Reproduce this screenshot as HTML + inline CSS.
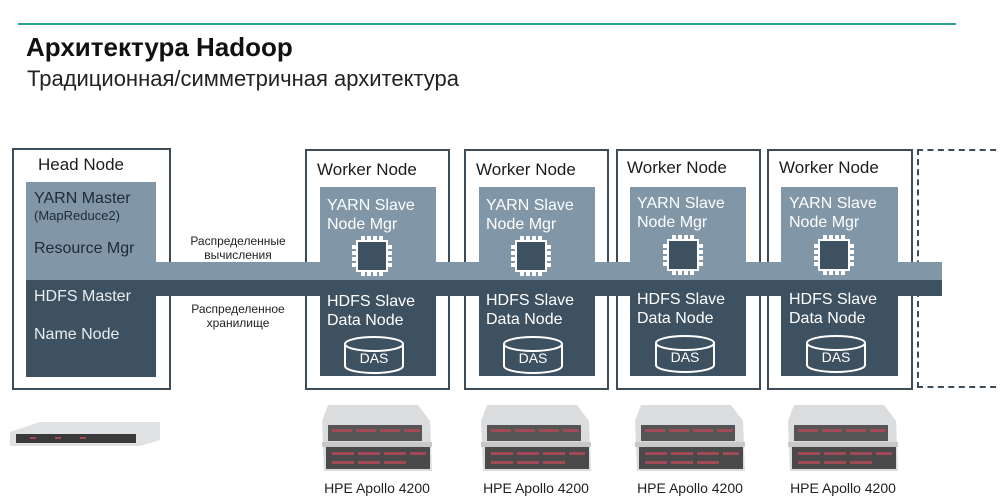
<!DOCTYPE html>
<html><head><meta charset="utf-8"><style>
body{margin:0;width:1000px;height:504px;background:#fff;position:relative;overflow:hidden;font-family:"Liberation Sans",sans-serif}
.a{position:absolute}
.box{position:absolute;border:2px solid #3c4c58;box-sizing:border-box;background:#fff}
.lt{position:absolute;background:#8196a7}
.dk{position:absolute;background:#3e5161}
.t{position:absolute;white-space:nowrap}
.wt{font-size:17px;color:#1c1c1c}
.in{font-size:16px;color:#fff;line-height:19px}
.lbl{font-size:12px;color:#222;text-align:center;line-height:14px}
</style></head><body>
<div class="a" style="left:18px;top:23px;width:938px;height:2px;background:#2aa392"></div>
<div class="t" style="left:26px;top:32px;font-size:26px;font-weight:bold;color:#111">Архитектура Hadoop</div>
<div class="t" style="left:27px;top:66px;font-size:22px;color:#222">Традиционная/симметричная архитектура</div>

<div class="box" style="left:12px;top:148px;width:159px;height:242px"></div>
<div class="t wt" style="left:38px;top:155px">Head Node</div>
<div class="lt" style="left:26px;top:182px;width:130px;height:98px"></div>
<div class="dk" style="left:26px;top:280px;width:130px;height:97px"></div>

<div class="box" style="left:305px;top:149px;width:145px;height:241px"></div>
<div class="box" style="left:464px;top:149px;width:145px;height:241px"></div>
<div class="box" style="left:616px;top:149px;width:145px;height:241px"></div>
<div class="box" style="left:767px;top:149px;width:146px;height:241px"></div>
<div class="a" style="left:917px;top:149px;width:100px;height:239px;border:2px dashed #3c4c58;box-sizing:border-box"></div>

<div class="lt" style="left:320px;top:187px;width:116px;height:93px"></div>
<div class="dk" style="left:320px;top:296px;width:116px;height:80px"></div>
<div class="lt" style="left:479px;top:187px;width:116px;height:93px"></div>
<div class="dk" style="left:479px;top:296px;width:116px;height:80px"></div>
<div class="lt" style="left:630px;top:187px;width:116px;height:93px"></div>
<div class="dk" style="left:630px;top:296px;width:116px;height:80px"></div>
<div class="lt" style="left:781px;top:187px;width:117px;height:93px"></div>
<div class="dk" style="left:781px;top:296px;width:117px;height:80px"></div>

<div class="lt" style="left:156px;top:262px;width:786px;height:18px"></div>
<div class="dk" style="left:156px;top:280px;width:786px;height:16px"></div>

<div class="t" style="left:34px;top:190px;font-size:16px;color:#1e2b36">YARN Master</div>
<div class="t" style="left:34px;top:208px;font-size:13px;color:#1e2b36">(MapReduce2)</div>
<div class="t" style="left:34px;top:240px;font-size:16px;color:#1e2b36">Resource Mgr</div>
<div class="t" style="left:34px;top:288px;font-size:16px;color:#e8edf1">HDFS Master</div>
<div class="t" style="left:34px;top:326px;font-size:16px;color:#e8edf1">Name Node</div>

<div class="t lbl" style="left:172px;top:234px;width:132px">Распределенные<br>вычисления</div>
<div class="t lbl" style="left:172px;top:302px;width:132px">Распределенное<br>хранилище</div>

<div class="t wt" style="left:317px;top:160px">Worker Node</div>
<div class="t wt" style="left:476px;top:160px">Worker Node</div>
<div class="t wt" style="left:627px;top:158px">Worker Node</div>
<div class="t wt" style="left:779px;top:158px">Worker Node</div>

<div class="t in" style="left:327px;top:196px">YARN Slave<br>Node Mgr</div>
<div class="t in" style="left:486px;top:196px">YARN Slave<br>Node Mgr</div>
<div class="t in" style="left:637px;top:194px">YARN Slave<br>Node Mgr</div>
<div class="t in" style="left:789px;top:194px">YARN Slave<br>Node Mgr</div>
<div class="t in" style="left:327px;top:292px">HDFS Slave<br>Data Node</div>
<div class="t in" style="left:486px;top:291px">HDFS Slave<br>Data Node</div>
<div class="t in" style="left:637px;top:290px">HDFS Slave<br>Data Node</div>
<div class="t in" style="left:789px;top:290px">HDFS Slave<br>Data Node</div>

<svg class="a" style="left:0;top:0" width="1000" height="504">
<defs>
<g id="pinrow" fill="#fff">
<rect x="-11" y="0" width="4" height="4"/><rect x="-5" y="0" width="4" height="4"/><rect x="1" y="0" width="4" height="4"/><rect x="7" y="0" width="4" height="4"/>
</g>
<g id="chip">
<rect x="-16" y="-16" width="32" height="32" fill="#fff"/>
<rect x="-14" y="-14" width="28" height="28" fill="#3e5161"/>
<use href="#pinrow" y="-20"/><use href="#pinrow" y="16"/>
<use href="#pinrow" transform="rotate(90) translate(0,16)"/><use href="#pinrow" transform="rotate(90) translate(0,-20)"/>
</g>
<g id="das">
<path d="M-29 -11 V11 A29 7 0 0 0 29 11 V-11" fill="#3e5161" stroke="#fff" stroke-width="2"/>
<ellipse cx="0" cy="-11" rx="29" ry="7" fill="#3e5161" stroke="#fff" stroke-width="2"/>
</g>
<g id="apollo">
<path d="M8 0 L98 0 L110 16 L112 66 L4 66 L2 16 Z" fill="#dadcde"/>
<rect x="8" y="20" width="94" height="16" fill="#555"/>
<rect x="6" y="42" width="104" height="22" fill="#4a4a4a"/>
<g fill="#a04a55"><rect x="12" y="24" width="20" height="3"/><rect x="36" y="24" width="20" height="3"/><rect x="60" y="24" width="20" height="3"/><rect x="84" y="24" width="16" height="3"/>
<rect x="12" y="47" width="22" height="3"/><rect x="38" y="47" width="22" height="3"/><rect x="64" y="47" width="22" height="3"/><rect x="90" y="47" width="16" height="3"/>
<rect x="12" y="56" width="22" height="3"/><rect x="38" y="56" width="22" height="3"/><rect x="64" y="56" width="22" height="3"/></g>
<rect x="2" y="37" width="110" height="5" fill="#c8c8c8"/>
</g>
</defs>
<use href="#chip" x="372" y="256"/><use href="#chip" x="531" y="256"/><use href="#chip" x="683" y="255"/><use href="#chip" x="834" y="255"/>
<use href="#das" x="374" y="355"/><use href="#das" x="533" y="355"/><use href="#das" x="685" y="354"/><use href="#das" x="836" y="354"/>
<g font-family="Liberation Sans, sans-serif" font-size="14" fill="#fff" text-anchor="middle">
<text x="374" y="363">DAS</text><text x="533" y="363">DAS</text><text x="685" y="362">DAS</text><text x="836" y="362">DAS</text></g>
<use href="#apollo" x="320" y="405"/><use href="#apollo" x="479" y="405"/><use href="#apollo" x="633" y="405"/><use href="#apollo" x="786" y="405"/>
<path d="M10 432 L40 422 L160 422 L160 440 L140 446 L10 446 Z" fill="#e0e1e3"/>
<rect x="16" y="434" width="120" height="9" fill="#3a3a3a"/>
<g fill="#a04a55"><rect x="30" y="437" width="6" height="2"/><rect x="55" y="437" width="6" height="2"/><rect x="80" y="437" width="6" height="2"/></g>
<g font-family="Liberation Sans, sans-serif" font-size="14" fill="#222" text-anchor="middle">
<text x="377" y="493">HPE Apollo 4200</text><text x="536" y="493">HPE Apollo 4200</text><text x="690" y="493">HPE Apollo 4200</text><text x="843" y="493">HPE Apollo 4200</text></g>
</svg>
</body></html>
